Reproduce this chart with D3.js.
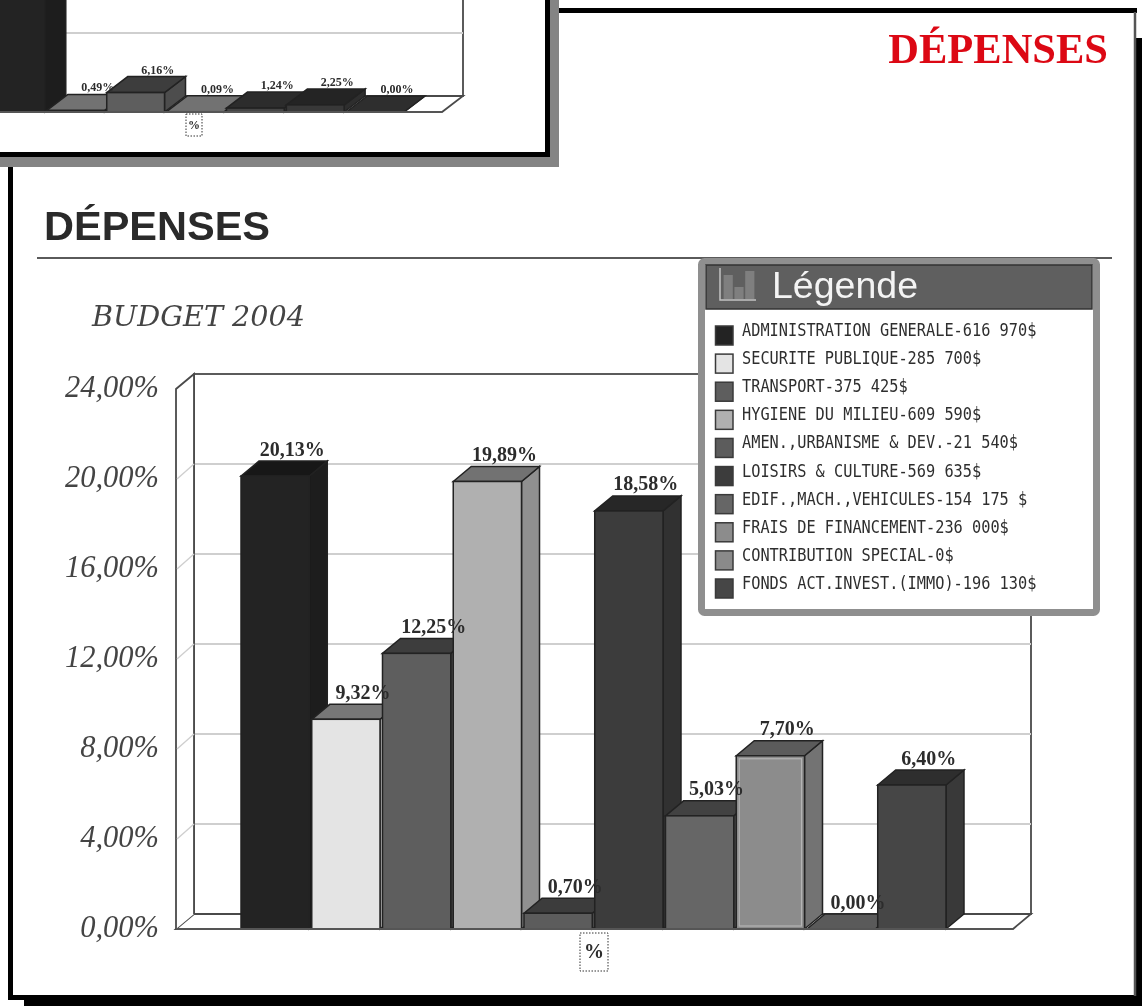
<!DOCTYPE html>
<html>
<head>
<meta charset="utf-8">
<script src="https://cdn.jsdelivr.net/npm/d3@7"></script>
<style>
  html, body { margin: 0; padding: 0; background: #fff; overflow: hidden; }
  text { font-family: "Liberation Serif", serif; }
  svg { filter: blur(0.45px); display: block; }
</style>
</head>
<body>
<div id="chart"></div>
<script>
// values
const categories = ["ADMINISTRATION GENERALE-616 970$", "SECURITE PUBLIQUE-285 700$", "TRANSPORT-375 425$",
  "HYGIENE DU MILIEU-609 590$", "AMEN.,URBANISME & DEV.-21 540$", "LOISIRS & CULTURE-569 635$",
  "EDIF.,MACH.,VEHICULES-154 175 $", "FRAIS DE FINANCEMENT-236 000$", "CONTRIBUTION SPECIAL-0$",
  "FONDS ACT.INVEST.(IMMO)-196 130$"];
const values = [20.13, 9.32, 12.25, 19.89, 0.70, 18.58, 5.03, 7.70, 0.00, 6.40];
const labels = ["20,13%", "9,32%", "12,25%", "19,89%", "0,70%", "18,58%", "5,03%", "7,70%", "0,00%", "6,40%"];
const frontColors = ["#232323", "#e4e4e4", "#5e5e5e", "#b0b0b0", "#5c5c5c", "#3c3c3c", "#666666", "#8c8c8c", "#8a8a8a", "#464646"];
const yTicks = [0, 4, 8, 12, 16, 20, 24];

// the small chart cut off at the top of the picture
const topValues = [89.77, 0.49, 6.16, 0.09, 1.24, 2.25, 0.00];
const topLabels = ["", "0,49%", "6,16%", "0,09%", "1,24%", "2,25%", "0,00%"];
const topColors = ["#232323", "#b0b0b0", "#5e5e5e", "#b0b0b0", "#444444", "#383838", "#464646"];

const svg = d3.select("#chart").append("svg")
    .attr("width", 1142)
    .attr("height", 1006);

// shade a bar colour for its side and top faces
const shade = (c, k) => { const r = d3.rgb(c); return d3.rgb(r.r * k, r.g * k, r.b * k).formatHex(); };
const fmtTick = (d) => d3.format(".2f")(d).replace(".", ",") + "%";

/* Page frames */
// black shadow of the main frame
svg.append("rect").attr("x", 24).attr("y", 38).attr("width", 1118).attr("height", 968).attr("fill", "#000");
svg.append("rect").attr("x", 13).attr("y", 13).attr("width", 1121).attr("height", 982).attr("fill", "#fff");
svg.append("path").attr("d", "M10.5,1000V10.5H1137").attr("fill", "none").attr("stroke", "#000").attr("stroke-width", 5);
svg.append("path").attr("d", "M8,997.5H24").attr("stroke", "#000").attr("stroke-width", 5);
svg.append("line").attr("x1", 1135).attr("x2", 1135).attr("y1", 12).attr("y2", 996).attr("stroke", "#555").attr("stroke-width", 2.5);

svg.append("text").attr("x", 1108).attr("y", 63).attr("text-anchor", "end")
    .attr("font-size", 42.5).attr("font-weight", "bold").attr("fill", "#dc0814")
    .text("DÉPENSES");

// shadow and panel of the small chart
svg.append("rect").attr("x", -20).attr("y", -20).attr("width", 579).attr("height", 187).attr("fill", "#848484");
svg.append("rect").attr("x", -20).attr("y", -20).attr("width", 567.5).attr("height", 174.5)
    .attr("fill", "#fff").attr("stroke", "#000").attr("stroke-width", 5);

/* Draw one 3d bar chart */
function bars3d(g, o) {
  const x = d3.scaleBand().domain(d3.range(o.values.length)).range(o.xRange).paddingInner(0.035).paddingOuter(0);
  const y = d3.scaleLinear().domain(o.domain).range(o.yRange);
  const dx = o.depth[0], dy = o.depth[1];
  const left = o.wall[0], right = o.wall[1];

  // back wall and floor
  g.append("rect").attr("x", left + dx).attr("y", y(o.domain[1]) + dy)
      .attr("width", right - left - dx).attr("height", y(0) - y(o.domain[1]))
      .attr("fill", "#fff").attr("stroke", "#4a4a4a").attr("stroke-width", 1.8);
  g.selectAll(".grid").data(o.ticks.slice(1, -1)).join("line").attr("class", "grid")
      .attr("x1", left + dx).attr("x2", right)
      .attr("y1", (d) => y(d) + dy).attr("y2", (d) => y(d) + dy)
      .attr("stroke", "#cfcfcf").attr("stroke-width", 1.8);
  g.append("path")
      .attr("d", `M${left},${y(0)}L${left + dx},${y(0) + dy}L${right},${y(0) + dy}L${right - dx},${y(0)}Z`)
      .attr("fill", "#fff").attr("stroke", "#4a4a4a").attr("stroke-width", 1.8);
  // left wall
  g.append("path")
      .attr("d", `M${left},${y(0)}L${left},${y(o.domain[1])}L${left + dx},${y(o.domain[1]) + dy}L${left + dx},${y(0) + dy}`)
      .attr("fill", "#fff").attr("stroke", "#4a4a4a").attr("stroke-width", 1.8);
  g.selectAll(".side-grid").data(o.ticks.slice(1, -1)).join("line").attr("class", "side-grid")
      .attr("x1", left + 1).attr("x2", left + dx)
      .attr("y1", (d) => y(d)).attr("y2", (d) => y(d) + dy)
      .attr("stroke", "#cfcfcf").attr("stroke-width", 1.4);

  // bars, drawn from the left so each one covers the side of the one before
  const bar = g.selectAll(".bar").data(o.values).join("g").attr("class", "bar");
  bar.append("path") // side
      .attr("d", (d, i) => {
        const r = x(i) + x.bandwidth();
        return `M${r},${y(0)}L${r},${y(d)}L${r + dx},${y(d) + dy}L${r + dx},${y(0) + dy}Z`;
      })
      .attr("fill", (d, i) => shade(o.colors[i], 0.82)).attr("stroke", "#222").attr("stroke-width", 1.5);
  bar.append("path") // top
      .attr("d", (d, i) => {
        const l = x(i), r = l + x.bandwidth();
        return `M${l},${y(d)}L${l + dx},${y(d) + dy}L${r + dx},${y(d) + dy}L${r},${y(d)}Z`;
      })
      .attr("fill", (d, i) => shade(o.colors[i], o.colors[i] === "#e4e4e4" ? 0.52 : 0.65))
      .attr("stroke", "#222").attr("stroke-width", 1.5);
  bar.append("rect") // front
      .attr("x", (d, i) => x(i)).attr("y", (d) => y(d))
      .attr("width", x.bandwidth()).attr("height", (d) => y(0) - y(d))
      .attr("fill", (d, i) => o.colors[i]).attr("stroke", "#222").attr("stroke-width", 1.5);

  // the selected bar has a light inner edge
  if (o.selected !== undefined) {
    const s = o.selected;
    g.append("rect").attr("x", x(s) + 3).attr("y", y(o.values[s]) + 3)
        .attr("width", x.bandwidth() - 6).attr("height", y(0) - y(o.values[s]) - 6)
        .attr("fill", "none").attr("stroke", "#b4b4b4").attr("stroke-width", 1.2);
  }

  // value labels on top of everything
  g.selectAll(".val").data(o.values).join("text").attr("class", "val")
      .attr("x", (d, i) => x(i) + x.bandwidth() / 2 + dx + o.labelShift)
      .attr("y", (d) => y(d) + dy - o.labelGap)
      .attr("text-anchor", "middle")
      .attr("font-size", o.labelSize).attr("font-weight", "bold").attr("fill", "#2c2c2c")
      .text((d, i) => o.labels[i]);

  // front baseline
  g.append("line").attr("x1", left).attr("x2", right - dx).attr("y1", y(0)).attr("y2", y(0))
      .attr("stroke", "#555").attr("stroke-width", 2);

  // dotted box under the axis
  g.append("rect").attr("x", o.unit[0]).attr("y", y(0) + o.unit[1])
      .attr("width", o.unit[2]).attr("height", o.unit[3])
      .attr("fill", "#fff").attr("stroke", "#333").attr("stroke-dasharray", "1.5,1.5");
  g.append("text").attr("x", o.unit[0] + o.unit[2] / 2).attr("y", y(0) + o.unit[1] + o.unit[3] * 0.66)
      .attr("text-anchor", "middle").attr("font-size", o.labelSize).attr("font-weight", "bold").attr("fill", "#2c2c2c")
      .text("%");
  return y;
}

/* Small chart at the top left */
const topChart = svg.append("g");
bars3d(topChart, {
  values: topValues, labels: topLabels, colors: topColors,
  domain: [0, 120], yRange: [112, 112 - 120 * 3.15],
  xRange: [-13, 404], depth: [21, -16], wall: [-60, 463], ticks: [0, 20, 40, 60, 80, 100, 120],
  labelSize: 12, labelGap: 3, labelShift: 1, unit: [186, 2, 16, 22]
});

/* Main chart */
svg.append("text").attr("x", 44).attr("y", 240)
    .style("font-family", "'Liberation Sans', sans-serif")
    .attr("font-size", 41.5).attr("font-weight", "bold").attr("fill", "#2a2a2a").text("DÉPENSES");
svg.append("line").attr("x1", 37).attr("x2", 1112).attr("y1", 258).attr("y2", 258)
    .attr("stroke", "#5a5a5a").attr("stroke-width", 2);
svg.append("text").attr("x", 92).attr("y", 326)
    .style("font-family", "'DejaVu Serif', serif")
    .attr("font-size", 28).attr("font-style", "italic").attr("fill", "#444")
    .attr("textLength", 213).attr("lengthAdjust", "spacingAndGlyphs").text("BUDGET 2004");

const mainChart = svg.append("g");
const yMain = bars3d(mainChart, {
  values: values, labels: labels, colors: frontColors, selected: 7,
  domain: [0, 24], yRange: [929, 389],
  xRange: [241, 946], depth: [18, -15], wall: [176, 1031], ticks: yTicks,
  labelSize: 20, labelGap: 5.5, labelShift: -1, unit: [580, 4, 28, 38]
});

// y axis labels
svg.append("g").attr("transform", "translate(176,-2)")
    .call(d3.axisLeft(yMain).tickValues(yTicks).tickFormat(fmtTick).tickSize(0).tickPadding(17))
    .call((g) => g.select(".domain").remove())
    .call((g) => g.selectAll("text").attr("font-size", 30.5).attr("font-style", "italic").attr("fill", "#444")
      .style("font-family", "'Liberation Serif', serif"));

/* Legend box over the chart */
const legend = svg.append("g");
legend.append("rect").attr("x", 701.5).attr("y", 261.5).attr("width", 395).attr("height", 351)
    .attr("fill", "#fff").attr("stroke", "#8f8f8f").attr("stroke-width", 7).attr("rx", 3);
legend.append("rect").attr("x", 706).attr("y", 265).attr("width", 386).attr("height", 44)
    .attr("fill", "#5f5f5f").attr("stroke", "#333").attr("stroke-width", 1.5);
// small bar icon in the legend title
const iconX = d3.scaleBand().domain(d3.range(3)).range([722, 756]).padding(0.15);
const iconHeights = [24, 12, 28];
legend.selectAll(".icon").data(iconHeights).join("rect").attr("class", "icon")
    .attr("x", (d, i) => iconX(i)).attr("y", (d) => 299 - d)
    .attr("width", iconX.bandwidth()).attr("height", (d) => d).attr("fill", "#7f7f7f");
legend.append("path").attr("d", "M720,268V300H756").attr("fill", "none").attr("stroke", "#c4c4c4").attr("stroke-width", 1.5);
legend.append("text").attr("x", 772).attr("y", 298)
    .style("font-family", "'Liberation Sans', sans-serif")
    .attr("font-size", 37.5).attr("fill", "#f4f4f4").text("Légende");

const legendY = d3.scalePoint().domain(d3.range(categories.length)).range([336, 589]);
const row = legend.selectAll(".row").data(categories).join("g").attr("class", "row")
    .attr("transform", (d, i) => `translate(0,${legendY(i)})`);
row.append("rect").attr("x", 715.5).attr("y", -10).attr("width", 17.5).attr("height", 19)
    .attr("fill", (d, i) => frontColors[i]).attr("stroke", "#3a3a3a").attr("stroke-width", 1.5);
row.append("text").attr("x", 742).attr("y", 0)
    .style("font-family", "'DejaVu Sans Mono', monospace")
    .attr("font-size", 18).attr("fill", "#2e2e2e")
    .attr("textLength", (d) => d.length * 9.2).attr("lengthAdjust", "spacingAndGlyphs")
    .text((d) => d);
</script>
</body>
</html>
